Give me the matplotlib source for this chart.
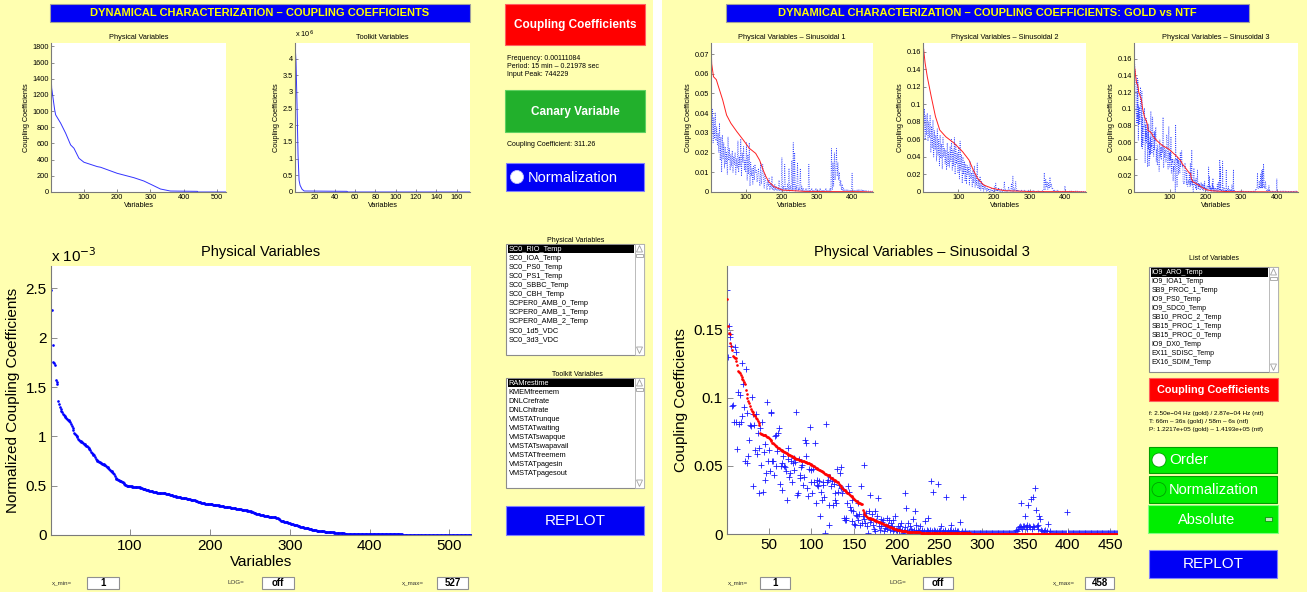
import numpy as np
import matplotlib
matplotlib.use('Agg')
import matplotlib.pyplot as plt
from matplotlib.patches import Rectangle, Circle, Polygon
from matplotlib.ticker import MultipleLocator, FuncFormatter

plt.rcParams['font.family'] = ['Liberation Sans', 'DejaVu Sans']

# ---------------- data ----------------
x_min, x_max_phys, x_max_sin = 1, 527, 458
n_toolkit = 173

# small "Physical Variables" curve (coupling coefficients, sorted)
phys_x = [1, 2, 3, 12, 15, 30, 45, 60, 70, 85, 100, 140, 150, 200, 250, 280,
          305, 330, 360, 441, 443, 527]
phys_y = [1842, 1385, 1285, 1016, 954, 851, 727, 582, 541, 417, 368, 314, 306,
          231, 177, 136, 87, 37, 12, 8, 0, 0]

# small "Toolkit Variables" curve
tk_x = [1, 2, 3, 4, 5, 6, 8, 10, 30, 52, 53, n_toolkit]
tk_y = [4.47e6, 3.9e6, 2.6e6, 1.1e6, 0.35e6, 0.2e6, 0.08e6, 0.03e6, 0.025e6,
        0.02e6, 0, 0]

# normalized coupling coefficients, physical variables (units of 1e-6)
norm_phys = [
    2480, 2280, 1930, 1750, 1740, 1720, 1570, 1550, 1530, 1360,
    1330, 1300, 1280, 1260, 1250, 1230, 1220, 1210, 1200, 1190,
    1180, 1170, 1165, 1160, 1150, 1130, 1110, 1090, 1060, 1030,
    1020, 1010, 1000, 990, 970, 960, 955, 950, 945, 940,
    930, 925, 920, 910, 905, 900, 890, 880, 870, 860,
    840, 830, 820, 815, 810, 790, 770, 760, 755, 750,
    745, 740, 735, 730, 725, 720, 715, 710, 705, 700,
    690, 685, 680, 670, 660, 650, 645, 640, 630, 620,
    600, 580, 570, 565, 560, 555, 550, 548, 545, 540,
    535, 530, 520, 510, 505, 500, 498, 496, 495, 494,
    493, 492, 491, 490, 490, 489, 488, 487, 486, 485,
    484, 482, 480, 478, 475, 470, 467, 464, 462, 460,
    458, 455, 452, 450, 448, 446, 444, 442, 440, 438,
    436, 434, 432, 431, 430, 429, 428, 427, 426, 425,
    424, 423, 422, 421, 420, 418, 416, 414, 412, 410,
    407, 404, 401, 398, 395, 393, 391, 390, 389, 388,
    386, 384, 382, 380, 378, 376, 375, 374, 373, 372,
    370, 368, 366, 364, 362, 360, 358, 356, 354, 352,
    350, 347, 344, 341, 338, 335, 332, 330, 328, 326,
    324, 322, 320, 319, 318, 317, 316, 315, 314, 313,
    312, 311, 310, 309, 308, 307, 306, 305, 304, 303,
    301, 299, 297, 295, 293, 291, 290, 289, 288, 287,
    285, 283, 281, 280, 279, 278, 277, 276, 275, 274,
    272, 270, 268, 266, 264, 262, 261, 260, 259, 258,
    256, 254, 252, 251, 250, 249, 248, 247, 246, 245,
    242, 238, 234, 230, 226, 222, 219, 216, 214, 212,
    210, 208, 206, 204, 202, 200, 198, 196, 194, 192,
    190, 189, 188, 187, 186, 185, 184, 183, 182, 181,
    180, 178, 176, 174, 170, 165, 158, 150, 146, 143,
    140, 138, 136, 134, 132, 130, 127, 124, 121, 118,
    115, 112, 110, 108, 106, 104, 102, 100, 97, 94,
    91, 88, 86, 84, 82, 80, 78, 76, 74, 72,
    70, 68, 66, 64, 62, 60, 56, 52, 50, 49,
    48, 47, 46, 45, 44, 43, 42, 41, 40, 39,
    38, 37, 36, 35, 34, 33, 33, 32, 31, 31,
    30, 29, 28, 27, 26, 25, 25, 24, 23, 23,
    22, 21, 20, 19, 18, 17, 16, 16, 15, 15,
    14, 14, 14, 14, 13, 13, 13, 13, 13, 13,
    12, 12, 12, 12, 12, 12, 12, 12, 12, 12,
    12, 12, 12, 12, 12, 12, 12, 12, 12, 12,
    11, 11, 11, 11, 11, 11, 11, 11, 11, 11,
    11, 11, 11, 11, 11, 11, 11, 11, 11, 11,
    11, 11, 11, 11, 10, 10, 10, 10, 10, 10,
    10, 10, 10, 10, 10, 10, 10, 10, 10, 10,
    3, 3, 3, 3, 3, 3, 3, 3, 3, 3,
    3, 3, 3, 3, 3, 3, 3, 3, 3, 3,
    3, 3, 3, 3, 3, 3, 3, 3, 3, 3,
    3, 3, 3, 3, 3, 3, 3, 3, 3, 3,
    3, 3, 3, 3, 3, 3, 3, 3, 3, 3,
    3, 3, 3, 3, 3, 3, 3, 3, 3, 3,
    3, 3, 3, 3, 3, 3, 3, 3, 3, 3,
    3, 3, 3, 3, 3, 3, 3, 3, 3, 3,
    3, 3, 3, 3, 3, 3, 3,
]

# Sinusoidal 3: gold (sorted) and ntf coupling coefficients (units of 1e-4)
gold_s3 = [
    1730, 1530, 1480, 1470, 1400, 1380, 1350, 1310, 1300, 1295,
    1290, 1270, 1240, 1200, 1190, 1180, 1170, 1150, 1140, 1130,
    1120, 1100, 1060, 1030, 1000, 980, 960, 940, 920, 905,
    895, 885, 875, 865, 855, 845, 830, 815, 800, 740,
    735, 733, 730, 728, 727, 725, 720, 715, 710, 705,
    700, 690, 680, 670, 666, 660, 655, 650, 645, 640,
    635, 630, 625, 620, 617, 612, 608, 604, 600, 596,
    592, 588, 584, 580, 577, 574, 571, 568, 564, 560,
    557, 554, 551, 548, 545, 543, 541, 540, 538, 536,
    534, 532, 530, 527, 524, 521, 518, 515, 512, 508,
    504, 500, 496, 492, 488, 484, 480, 476, 472, 468,
    464, 460, 456, 452, 448, 444, 440, 436, 433, 430,
    425, 420, 415, 410, 405, 400, 395, 390, 386, 383,
    380, 370, 360, 350, 342, 335, 330, 325, 320, 315,
    310, 304, 298, 292, 288, 282, 276, 270, 262, 255,
    250, 245, 240, 235, 230, 228, 226, 224, 222, 180,
    160, 150, 140, 130, 125, 120, 118, 116, 114, 112,
    110, 107, 104, 101, 98, 95, 93, 91, 89, 87,
    84, 81, 78, 75, 72, 69, 66, 63, 60, 57,
    54, 51, 48, 45, 43, 41, 39, 37, 35, 33,
    30, 28, 27, 26, 25, 24, 23, 22, 21, 20,
    19, 18, 17, 17, 16, 16, 15, 15, 14, 14,
    13, 13, 13, 12, 12, 12, 12, 11, 11, 11,
    11, 10, 10, 10, 10, 10, 9, 9, 9, 9,
    9, 8, 8, 8, 8, 8, 8, 7, 7, 7,
    7, 7, 7, 7, 7, 6, 6, 6, 6, 6,
    6, 6, 5, 5, 5, 5, 5, 5, 5, 5,
    5, 5, 5, 4, 4, 4, 4, 4, 4, 4,
    4, 4, 4, 4, 4, 4, 3, 3, 3, 3,
    3, 3, 3, 3, 3, 3, 3, 3, 3, 3,
    3, 3, 3, 3, 3, 3, 3, 3, 3, 3,
    3, 3, 3, 3, 3, 3, 3, 3, 3, 3,
    2, 2, 2, 2, 2, 2, 2, 2, 2, 2,
    2, 2, 2, 2, 2, 2, 2, 2, 2, 2,
    2, 2, 2, 2, 2, 2, 2, 2, 2, 2,
    2, 2, 2, 2, 2, 2, 2, 2, 2, 2,
    2, 2, 2, 2, 2, 2, 2, 2, 2, 2,
    2, 2, 2, 2, 2, 2, 2, 2, 2, 2,
    1, 1, 1, 1, 1, 1, 1, 1, 1, 1,
    1, 1, 1, 1, 1, 1, 1, 1, 1, 1,
    1, 1, 1, 1, 1, 1, 1, 1, 1, 1,
    1, 1, 1, 1, 1, 1, 1, 1, 1, 1,
    0, 0, 0, 0, 0, 0, 0, 0, 0, 0,
    0, 0, 0, 0, 0, 0, 0, 0, 0, 0,
    0, 0, 0, 0, 0, 0, 0, 0, 0, 0,
    0, 0, 0, 0, 0, 0, 0, 0,
]
ntf_s3 = [
    1790, 1300, 1530, 1470, 1450, 1380, 940, 950, 820, 1377,
    820, 1340, 624, 1040, 810, 1020, 820, 870, 1260, 1100,
    930, 540, 1210, 520, 890, 570, 690, 800, 790, 1010,
    880, 350, 800, 620, 885, 590, 740, 630, 300, 780,
    510, 820, 310, 600, 400, 660, 450, 970, 540, 620,
    460, 890, 900, 540, 540, 430, 720, 500, 727, 610,
    740, 780, 370, 500, 520, 320, 570, 500, 495, 460,
    250, 550, 630, 420, 450, 540, 385, 520, 556, 470,
    530, 898, 290, 300, 550, 430, 410, 495, 510, 360,
    420, 690, 666, 570, 340, 276, 480, 788, 385, 470,
    300, 480, 380, 666, 227, 360, 400, 350, 390, 129,
    310, 250, 385, 360, 270, 7, 810, 380, 400, 210,
    68, 420, 350, 390, 215, 370, 300, 250, 230, 480,
    310, 360, 450, 495, 340, 300, 330, 117, 105, 120,
    105, 227, 350, 310, 200, 180, 93, 250, 166, 70,
    68, 140, 129, 100, 227, 150, 68, 350, 80, 129,
    110, 507, 80, 154, 60, 7, 170, 288, 90, 105,
    150, 68, 40, 166, 20, 93, 130, 263, 60, 32,
    110, 56, 90, 105, 20, 44, 60, 117, 40, 68,
    100, 32, 80, 56, 20, 100, 40, 129, 30, 32,
    56, 20, 40, 60, 80, 30, 10, 20, 300, 50,
    190, 30, 80, 20, 56, 10, 40, 20, 110, 30,
    166, 20, 68, 10, 30, 20, 56, 10, 20, 30,
    10, 20, 93, 10, 30, 117, 20, 10, 30, 390,
    20, 310, 10, 30, 20, 10, 20, 370, 10, 20,
    30, 56, 10, 20, 10, 30, 20, 270, 10, 20,
    10, 30, 20, 68, 10, 20, 10, 30, 10, 20,
    10, 20, 10, 85, 10, 20, 10, 270, 10, 20,
    10, 5, 10, 8, 5, 10, 5, 8, 5, 10,
    5, 8, 5, 10, 5, 8, 5, 10, 5, 8,
    5, 10, 5, 8, 5, 10, 5, 8, 5, 10,
    5, 8, 5, 10, 5, 8, 5, 10, 5, 8,
    5, 10, 5, 8, 5, 10, 5, 8, 5, 10,
    5, 8, 5, 10, 5, 8, 5, 10, 5, 30,
    20, 40, 50, 60, 230, 50, 40, 60, 61, 134,
    50, 68, 40, 215, 60, 50, 259, 40, 270, 60,
    50, 340, 178, 60, 68, 40, 129, 110, 30, 20,
    10, 20, 10, 30, 10, 20, 76, 10, 20, 10,
    5, 10, 5, 8, 5, 10, 5, 8, 5, 10,
    5, 8, 5, 10, 5, 8, 5, 10, 160, 8,
    5, 10, 5, 8, 5, 10, 5, 8, 5, 10,
    5, 8, 5, 10, 5, 8, 5, 10, 5, 8,
    5, 10, 5, 8, 5, 10, 5, 8, 5, 10,
    5, 8, 5, 10, 5, 8, 5, 10, 5, 8,
    5, 10, 5, 8, 5, 10, 5, 8, 5, 10,
    5, 8, 5, 10, 5, 8, 5, 8,
]

# Sinusoidal 1 and 2 (small plots): gold curve vertices, ntf every 2nd variable
s1_gx = [1, 3, 8, 16, 22, 34, 45, 57, 74, 92, 109, 127, 138, 148, 156, 164,
         179, 202, 266, 348, 423, 458]
s1_gy = [0.0756, 0.065, 0.0585, 0.057, 0.0535, 0.0467, 0.039, 0.0349, 0.0306,
         0.0264, 0.0222, 0.0196, 0.0162, 0.0112, 0.0078, 0.0052, 0.0027,
         0.001, 0.0003, 0.0002, 0.0002, 0.0]
s1_ntf = [
    450, 300, 420, 250, 380, 270, 400, 260, 330, 240,
    300, 200, 350, 160, 280, 100, 290, 170, 250, 120,
    230, 140, 200, 90, 280, 160, 220, 110, 190, 130,
    210, 100, 180, 140, 200, 90, 170, 120, 260, 100,
    180, 130, 270, 80, 200, 150, 230, 110, 160, 100,
    250, 60, 190, 90, 250, 30, 150, 80, 120, 40,
    130, 60, 140, 100, 110, 50, 90, 120, 60, 30,
    150, 40, 90, 140, 70, 20, 90, 60, 40, 10,
    60, 30, 70, 10, 40, 20, 80, 10, 30, 5,
    40, 10, 30, 5, 20, 10, 60, 5, 20, 5,
    175, 10, 30, 5, 140, 10, 20, 5, 40, 10,
    120, 5, 30, 10, 160, 5, 250, 10, 200, 5,
    30, 10, 150, 5, 20, 10, 120, 5, 30, 5,
    20, 5, 10, 5, 20, 5, 10, 5, 140, 5,
    10, 5, 20, 5, 10, 5, 10, 5, 20, 5,
    10, 5, 10, 5, 20, 5, 10, 5, 10, 5,
    10, 5, 20, 5, 10, 5, 10, 5, 20, 5,
    220, 10, 150, 30, 200, 60, 120, 220, 80, 150,
    60, 100, 30, 60, 10, 40, 5, 20, 5, 10,
    5, 10, 5, 10, 5, 10, 5, 10, 5, 95,
    10, 5, 10, 5, 10, 5, 10, 5, 10, 5,
    10, 5, 10, 5, 10, 5, 10, 5, 10, 5,
    5, 3, 5, 3, 5, 3, 5, 3, 5,
]
s2_gx = [1, 4, 7, 13, 24, 36, 48, 65, 89, 112, 130, 142, 154, 171, 195, 230,
         312, 418, 458]
s2_gy = [0.170, 0.158, 0.147, 0.1315, 0.109, 0.086, 0.0707, 0.063, 0.0555,
         0.046, 0.0365, 0.025, 0.0156, 0.008, 0.0042, 0.0015, 0.0004, 0.0004,
         0.0]
s2_ntf = [
    1050, 700, 950, 600, 880, 650, 900, 580, 800, 620,
    880, 450, 750, 500, 820, 400, 700, 480, 650, 350,
    720, 420, 600, 300, 650, 380, 550, 260, 620, 400,
    500, 320, 480, 250, 560, 300, 450, 280, 520, 350,
    600, 250, 480, 300, 620, 200, 550, 320, 450, 220,
    500, 150, 580, 250, 420, 100, 400, 200, 350, 120,
    320, 90, 300, 200, 280, 80, 350, 150, 220, 60,
    250, 100, 300, 50, 200, 80, 330, 40, 150, 30,
    180, 20, 120, 40, 100, 10, 80, 30, 60, 10,
    50, 10, 40, 5, 30, 10, 40, 5, 20, 5,
    60, 5, 100, 10, 30, 5, 50, 10, 20, 5,
    40, 5, 20, 10, 120, 5, 30, 10, 20, 5,
    60, 10, 20, 5, 100, 10, 180, 5, 40, 10,
    120, 5, 30, 10, 20, 5, 10, 5, 20, 5,
    10, 5, 20, 5, 10, 5, 10, 5, 20, 5,
    10, 5, 10, 5, 20, 5, 10, 5, 10, 5,
    10, 5, 20, 5, 10, 5, 10, 5, 20, 5,
    220, 20, 150, 60, 120, 30, 100, 40, 170, 60,
    90, 30, 40, 10, 20, 5, 10, 5, 20, 5,
    10, 5, 10, 5, 10, 5, 10, 5, 10, 70,
    10, 5, 10, 5, 10, 5, 10, 5, 10, 5,
    10, 5, 10, 5, 10, 5, 10, 5, 10, 5,
    5, 3, 5, 3, 5, 3, 5, 3, 5,
]

phys_items = ['SC0_RIO_Temp', 'SC0_IOA_Temp', 'SC0_PS0_Temp', 'SC0_PS1_Temp',
              'SC0_SBBC_Temp', 'SC0_CBH_Temp', 'SCPER0_AMB_0_Temp',
              'SCPER0_AMB_1_Temp', 'SCPER0_AMB_2_Temp', 'SC0_1d5_VDC',
              'SC0_3d3_VDC']
toolkit_items = ['RAMrestime', 'KMEMfreemem', 'DNLCrefrate', 'DNLChitrate',
                 'VMSTATrunque', 'VMSTATwaiting', 'VMSTATswapque',
                 'VMSTATswapavail', 'VMSTATfreemem', 'VMSTATpagesin',
                 'VMSTATpagesout']
right_items = ['IO9_ARO_Temp', 'IO9_IOA1_Temp', 'SB9_PROC_1_Temp',
               'IO9_PS0_Temp', 'IO9_SDC0_Temp', 'SB10_PROC_2_Temp',
               'SB15_PROC_1_Temp', 'SB15_PROC_0_Temp', 'IO9_DX0_Temp',
               'EX11_SDISC_Temp', 'EX16_SDIM_Temp']
info_left = ['Frequency: 0.00111084', 'Period: 15 min \u2013 0.21978 sec',
             'Input Peak: 744229']
canary_text = 'Coupling Coefficient: 311.26'
info_right = ['f: 2.50e\u221204 Hz (gold) / 2.87e\u221204 Hz (ntf)',
              'T: 66m \u2013 36s (gold) / 58m \u2013 6s (ntf)',
              'P: 1.2217e+05 (gold) \u2013 1.4193e+05 (ntf)']

# ---------------- figure & background (pixel coordinates) ----------------
W, H = 1307, 592
fig = plt.figure(figsize=(W / 100, H / 100), dpi=100)
fig.patch.set_facecolor('white')
bg = fig.add_axes([0, 0, 1, 1])
bg.set_xlim(0, W)
bg.set_ylim(H, 0)
bg.axis('off')

YEL = '#ffffb0'
BLUE = '#0000f5'
bg.add_patch(Rectangle((0, 0), 653, H, fc=YEL, ec='none'))
bg.add_patch(Rectangle((662, 0), W - 662, H, fc=YEL, ec='none'))


def box(x0, y0, x1, y1, fc, ec='none', lw=0.8):
    bg.add_patch(Rectangle((x0, y0), x1 - x0, y1 - y0, fc=fc, ec=ec, lw=lw))


def button(x0, y0, x1, y1, fc, text, fs, ec='#c0c0c0', weight='bold',
           tx=None, ha='center'):
    box(x0, y0, x1, y1, fc, ec=ec, lw=0.8)
    if tx is None:
        tx = (x0 + x1) / 2
    bg.text(tx, (y0 + y1) / 2 + 0.5, text, fontsize=fs, color='white',
            weight=weight, ha=ha, va='center')


def listbox(x0, y0, x1, y1, items, fs, y_first, step=9):
    box(x0, y0, x1, y1, 'white', ec='#8c8c8c', lw=0.8)
    sb = x1 - 9
    box(sb, y0, x1, y1, 'white', ec='#b0b0b0', lw=0.6)
    xm = (sb + x1) / 2
    bg.add_patch(Polygon([(sb + 1.5, y0 + 8), (x1 - 1.5, y0 + 8), (xm, y0 + 1.5)],
                         closed=True, fill=False, ec='#a0a0a0', lw=0.6))
    box(sb + 1, y0 + 9.5, x1 - 1, y0 + 12.5, 'white', ec='#a0a0a0', lw=0.6)
    bg.add_patch(Polygon([(sb + 1.5, y1 - 8), (x1 - 1.5, y1 - 8), (xm, y1 - 1.5)],
                         closed=True, fill=False, ec='#a0a0a0', lw=0.6))
    box(x0 + 1.5, y_first - 4.3, sb - 1.5, y_first + 4.3, 'black')
    for i, it in enumerate(items):
        bg.text(x0 + 2.5, y_first + i * step + 0.3, it, fontsize=fs,
                color='white' if i == 0 else 'black', va='center')


def entry(lx, x0, x1, y0, y1, lab, val):
    bg.text(lx, (y0 + y1) / 2, lab, fontsize=4.5, color='#333333', va='center')
    box(x0, y0, x1, y1, 'white', ec='#909090', lw=0.8)
    bg.text((x0 + x1) / 2, (y0 + y1) / 2 + 0.5, val, fontsize=7, weight='bold',
            ha='center', va='center')


# title bars
box(50, 4, 470, 22, BLUE, ec='#a0a0a0')
bg.text(260, 13.5, 'DYNAMICAL CHARACTERIZATION \u2013 COUPLING COEFFICIENTS',
        fontsize=8, weight='bold', color='#ffff00', ha='center', va='center')
box(726, 4, 1249, 22, BLUE, ec='#a0a0a0')
bg.text(987.5, 13.5,
        'DYNAMICAL CHARACTERIZATION \u2013 COUPLING COEFFICIENTS: GOLD vs NTF',
        fontsize=8, weight='bold', color='#ffff00', ha='center', va='center')

# middle column (left panel)
button(505, 4, 645, 45, '#ff0000', 'Coupling Coefficients', 8.5, ec='#ff6060')
for i, s in enumerate(info_left):
    bg.text(507, 59 + i * 7.8, s, fontsize=5, va='center')
button(505, 90, 645, 132, '#22b02c', 'Canary Variable', 8.5, ec='#60d060')
bg.text(507, 145, canary_text, fontsize=5, va='center')
button(506, 163, 644, 191, BLUE, 'Normalization', 10.5, weight='normal',
       tx=528, ha='left', ec='#8080ff')
bg.add_patch(Circle((517, 177), 6.5, fc='white', ec='#c0c0ff', lw=0.6))
bg.text(576, 241, 'Physical Variables', fontsize=5, ha='center', va='center')
listbox(506, 244, 644, 355, phys_items, 5.3, 249)
bg.text(577, 374, 'Toolkit Variables', fontsize=5, ha='center', va='center')
listbox(506, 378, 644, 488, toolkit_items, 5.3, 383)
button(506, 506, 644, 535, BLUE, 'REPLOT', 11, weight='normal', ec='#8080ff')

# right column (right panel)
bg.text(1214, 258, 'List of Variables', fontsize=5, ha='center', va='center')
listbox(1149, 267, 1278, 372, right_items, 5, 272.5)
button(1149, 378, 1278, 401, '#ff0000', 'Coupling Coefficients', 7.8,
       ec='#ff6060')
for i, s in enumerate(info_right):
    bg.text(1149, 413 + i * 8, s, fontsize=4.6, va='center')
GREEN = '#00ee00'
button(1149, 447, 1277, 473, GREEN, 'Order', 11, weight='normal', tx=1169,
       ha='left', ec='#00a000')
bg.add_patch(Circle((1159, 460), 7, fc='white', ec='#00a000', lw=0.6))
button(1149, 476, 1277, 503, GREEN, 'Normalization', 10.5, weight='normal',
       tx=1169, ha='left', ec='#00a000')
bg.add_patch(Circle((1159, 489.5), 7, fc=GREEN, ec='#00a000', lw=0.6))
button(1148, 505, 1278, 533, GREEN, 'Absolute', 10.5, weight='normal',
       tx=1207, ec='#80ff80')
box(1265, 517, 1272, 521, '#b8e8b8', ec='#008000', lw=0.5)
button(1149, 550, 1277, 578, BLUE, 'REPLOT', 11, weight='normal', ec='#8080ff')

# bottom entries
entry(52, 87, 119, 577, 589, 'x_min=', str(x_min))
entry(228, 262, 294, 577, 589, 'LOG=', 'off')
entry(402, 437, 468, 577, 589, 'x_max=', str(x_max_phys))
entry(728, 760, 790, 577, 589, 'x_min=', str(x_min))
entry(890, 923, 953, 577, 589, 'LOG=', 'off')
entry(1053, 1085, 1114, 577, 589, 'x_max=', str(x_max_sin))

# ---------------- plot axes ----------------
fmt_g = FuncFormatter(lambda v, p: '%g' % round(v, 6))


def mk_axes(x0, y0, x1, y1, fs):
    ax = fig.add_axes([x0 / W, 1 - y1 / H, (x1 - x0) / W, (y1 - y0) / H])
    ax.set_facecolor('white')
    for s in ['top', 'right']:
        ax.spines[s].set_visible(False)
    for s in ['left', 'bottom']:
        ax.spines[s].set_color('#7a7a7a')
        ax.spines[s].set_linewidth(0.8)
    ax.tick_params(direction='in', length=2.5 if fs < 8 else 4, width=0.6,
                   color='#7a7a7a', labelsize=fs, pad=1.5 if fs < 8 else 3)
    return ax


SFS = 5.3
# small physical
ax = mk_axes(51, 43, 226, 192, SFS)
ax.plot(phys_x, phys_y, color='#3333ff', lw=0.7)
ax.set_xlim(x_min, x_max_phys)
ax.set_ylim(0, max(phys_y))
ax.xaxis.set_major_locator(MultipleLocator(100))
ax.yaxis.set_major_locator(MultipleLocator(200))
ax.yaxis.set_major_formatter(fmt_g)
ax.set_title('Physical Variables', fontsize=SFS, pad=3)
ax.set_xlabel('Variables', fontsize=SFS, labelpad=1)
ax.set_ylabel('Coupling Coefficients', fontsize=SFS, labelpad=2)

# small toolkit
ax = mk_axes(295, 43, 470, 192, SFS)
ax.plot(tk_x, tk_y, color='#3333ff', lw=0.7)
ax.set_xlim(x_min, n_toolkit)
ax.set_ylim(0, max(tk_y))
ax.xaxis.set_major_locator(MultipleLocator(20))
ax.yaxis.set_major_locator(MultipleLocator(0.5e6))
ax.yaxis.set_major_formatter(FuncFormatter(lambda v, p: '%g' % (v / 1e6)))
ax.set_title('Toolkit Variables', fontsize=SFS, pad=3)
ax.set_xlabel('Variables', fontsize=SFS, labelpad=1)
ax.set_ylabel('Coupling Coefficients', fontsize=SFS, labelpad=2)
bg.text(295, 38, 'x 10$^6$', fontsize=SFS, va='baseline')

# big left
np_vals = np.array(norm_phys) * 1e-6
xs = np.arange(1, len(np_vals) + 1)
ax = mk_axes(51, 266, 471, 535, 11)
ax.plot(xs, np_vals, 'o', color='#0000ff', ms=1.9, mew=0)
ax.set_xlim(x_min, x_max_phys)
ax.set_ylim(0, 1.1 * np_vals.max())
ax.xaxis.set_major_locator(MultipleLocator(100))
ax.yaxis.set_major_locator(MultipleLocator(0.5e-3))
ax.yaxis.set_major_formatter(FuncFormatter(lambda v, p: '%g' % round(v * 1e3, 6)))
ax.set_title('Physical Variables', fontsize=10.5, pad=7)
ax.set_xlabel('Variables', fontsize=11, labelpad=1)
ax.set_ylabel('Normalized Coupling Coefficients', fontsize=11, labelpad=4)
bg.text(51, 262, 'x 10$^{-3}$', fontsize=11, va='baseline')

# small sinusoidal plots
g3 = np.array(gold_s3) * 1e-4
n3 = np.array(ntf_s3) * 1e-4
x3 = np.arange(1, len(g3) + 1)
xn3 = np.arange(1, len(n3) + 1)
n1 = np.array(s1_ntf) * 1e-4
n2 = np.array(s2_ntf) * 1e-4
x_half1 = np.arange(1, 2 * len(n1), 2)
x_half2 = np.arange(1, 2 * len(n2), 2)
sin_sets = [
    ((711, 43, 873, 192), s1_gx, s1_gy, x_half1, n1, 0.01, 1),
    ((923, 43, 1086, 192), s2_gx, s2_gy, x_half2, n2, 0.02, 2),
    ((1134, 43, 1298, 192), x3, g3, xn3, n3, 0.02, 3),
]
for pos, gx, gy, nx, ny, step, k in sin_sets:
    ax = mk_axes(*pos, SFS)
    ax.plot(nx, ny, color='#3344ff', ls=':', lw=0.6)
    ax.plot(gx, gy, color='#ff2020', lw=0.7)
    ax.set_xlim(x_min, x_max_sin)
    ax.set_ylim(0, max(np.max(gy), np.max(ny)))
    ax.xaxis.set_major_locator(MultipleLocator(100))
    ax.yaxis.set_major_locator(MultipleLocator(step))
    ax.yaxis.set_major_formatter(fmt_g)
    ax.set_title('Physical Variables \u2013 Sinusoidal %d' % k, fontsize=SFS, pad=3)
    ax.set_xlabel('Variables', fontsize=SFS, labelpad=1)
    ax.set_ylabel('Coupling Coefficients', fontsize=SFS, labelpad=2)

# big right
ax = mk_axes(727, 266, 1117, 534, 11)
ax.plot(xn3, n3, '+', color='#1a1aff', ms=5, mew=0.6, zorder=2)
ax.plot(x3, g3, 'o', color='#ff0000', ms=1.9, mew=0, zorder=3)
ax.set_xlim(x_min, x_max_sin)
ax.set_ylim(0, 1.1 * max(g3.max(), n3.max()))
ax.xaxis.set_major_locator(MultipleLocator(50))
ax.yaxis.set_major_locator(MultipleLocator(0.05))
ax.yaxis.set_major_formatter(fmt_g)
ax.set_title('Physical Variables \u2013 Sinusoidal 3', fontsize=10.5, pad=7)
ax.set_xlabel('Variables', fontsize=11, labelpad=1)
ax.set_ylabel('Coupling Coefficients', fontsize=11, labelpad=4)

fig.savefig('out.png', dpi=100, facecolor=fig.get_facecolor())
